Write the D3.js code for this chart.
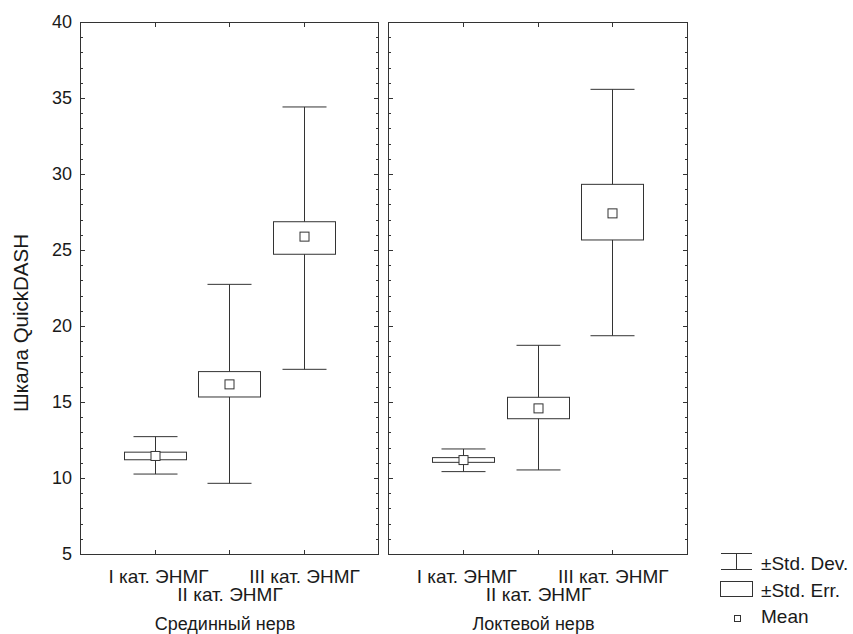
<!DOCTYPE html>
<html><head><meta charset="utf-8">
<script src="https://cdn.jsdelivr.net/npm/d3@7"></script>
<style>
body{margin:0;background:#fff;}
text{font-family:"Liberation Sans",Arial,sans-serif;fill:#1a1a1a;}
</style></head>
<body>
<svg id="chart" width="853" height="634"></svg>
<script>
const categories = ["I кат. ЭНМГ","II кат. ЭНМГ","III кат. ЭНМГ"];
const panels = ["Срединный нерв","Локтевой нерв"];
const means  = [[11.45,16.16,25.88],[11.18,14.58,27.41]];
const seHigh = [[11.70,17.00,26.86],[11.34,15.31,29.32]];
const seLow  = [[11.20,15.33,24.72],[11.03,13.90,25.66]];
const sdHigh = [[12.72,22.74,34.41],[11.91,18.73,35.57]];
const sdLow  = [[10.26,9.65,17.15],[10.42,10.53,19.36]];
const yTicks = [5,10,15,20,25,30,35,40];
const legendLabels = ["±Std. Dev.","±Std. Err.","Mean"];
const yTitle = "Шкала QuickDASH";

const svg = d3.select("#chart");
const stroke = "#333";
const plotTop = 22, plotBottom = 554;
const panelX = [[80,378],[388,687]];
const y = d3.scaleLinear().domain([5,40]).range([plotBottom, plotTop]);

panels.forEach((pname, p) => {
  const [x0, x1] = panelX[p];
  const x = d3.scalePoint().domain(categories).range([x0, x1]).padding(1);
  const g = svg.append("g");
  g.append("rect").attr("x", x0+0.5).attr("y", plotTop+0.5).attr("width", x1-x0).attr("height", plotBottom-plotTop)
    .attr("fill","none").attr("stroke",stroke).attr("stroke-width",1);
  const minor = d3.range(5,41,1);
  minor.forEach(v => {
    const len = (v % 5 === 0) ? 5 : 3;
    const yy = Math.round(y(v)) + 0.5;
    g.append("line").attr("x1",x0).attr("x2",x0+len).attr("y1",yy).attr("y2",yy).attr("stroke",stroke);
    g.append("line").attr("x1",x1+1).attr("x2",x1+1-len).attr("y1",yy).attr("y2",yy).attr("stroke",stroke);
  });
  categories.forEach(c => {
    const xx = Math.round(x(c)) + 0.5;
    g.append("line").attr("x1",xx).attr("x2",xx).attr("y1",plotBottom).attr("y2",plotBottom-4).attr("stroke",stroke);
    g.append("line").attr("x1",xx).attr("x2",xx).attr("y1",plotTop+1).attr("y2",plotTop+5).attr("stroke",stroke);
  });
  if (p === 0) {
    yTicks.forEach(v => {
      g.append("text").attr("x", x0-8).attr("y", y(v)).attr("dy","0.36em")
        .attr("text-anchor","end").attr("font-size",18).text(v);
    });
  }
  categories.forEach((c,i) => {
    g.append("text").attr("x", x(c) + (i === 0 ? 4 : 1)).attr("y", i % 2 === 0 ? 583 : 601)
      .attr("text-anchor","middle").attr("font-size",19).text(c);
  });
  g.append("text").attr("x",(x0+x1)/2 - 4).attr("y",630).attr("text-anchor","middle")
    .attr("font-size",18).text(pname);

  const capHalf = 22, boxHalf = 31, meanHalf = 4.5;
  categories.forEach((c,i) => {
    const cx = Math.round(x(c)) + 0.5;
    const mg = g.append("g").attr("stroke",stroke).attr("stroke-width",1);
    mg.append("line").attr("x1",cx).attr("x2",cx).attr("y1",y(sdHigh[p][i])).attr("y2",y(sdLow[p][i]));
    mg.append("line").attr("x1",cx-capHalf).attr("x2",cx+capHalf).attr("y1",y(sdHigh[p][i])).attr("y2",y(sdHigh[p][i]));
    mg.append("line").attr("x1",cx-capHalf).attr("x2",cx+capHalf).attr("y1",y(sdLow[p][i])).attr("y2",y(sdLow[p][i]));
    mg.append("rect").attr("x",cx-boxHalf).attr("y",y(seHigh[p][i]))
      .attr("width",boxHalf*2).attr("height",y(seLow[p][i])-y(seHigh[p][i])).attr("fill","#fff");
    mg.append("rect").attr("x",cx-meanHalf).attr("y",y(means[p][i])-meanHalf)
      .attr("width",meanHalf*2).attr("height",meanHalf*2).attr("fill","#fff");
  });
});

svg.append("text").attr("transform","translate(28,323) rotate(-90)")
  .attr("text-anchor","middle").attr("font-size",20.5).text(yTitle);

const lg = svg.append("g").attr("stroke",stroke).attr("stroke-width",1);
lg.append("line").attr("x1",721).attr("x2",752).attr("y1",553.5).attr("y2",553.5);
lg.append("line").attr("x1",721).attr("x2",752).attr("y1",569.5).attr("y2",569.5);
lg.append("line").attr("x1",736.5).attr("x2",736.5).attr("y1",553.5).attr("y2",569.5);
lg.append("rect").attr("x",720.5).attr("y",581.5).attr("width",32).attr("height",15).attr("fill","#fff");
lg.append("rect").attr("x",734.5).attr("y",615.5).attr("width",6).attr("height",6).attr("fill","#fff");
const ly = [570, 597, 623];
legendLabels.forEach((t,i) => {
  svg.append("text").attr("x",761).attr("y",ly[i]).attr("font-size",19).text(t);
});
</script>
</body></html>
